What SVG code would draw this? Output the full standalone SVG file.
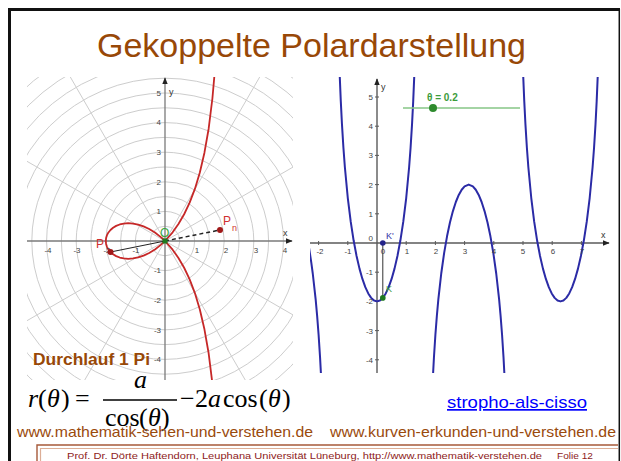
<svg xmlns="http://www.w3.org/2000/svg" width="621" height="461" viewBox="0 0 621 461">
<style>
.sans{font-family:"Liberation Sans",Arial,sans-serif}
.serif{font-family:"Liberation Serif","Times New Roman",serif}
.grid{stroke:#cdcdcd;stroke-width:1;fill:none}
.axisL{stroke:#7a7a7a;stroke-width:1.3;fill:none}
.axisR{stroke:#5a5a5a;stroke-width:1.4;fill:none}
.tick{stroke:#5a5a5a;stroke-width:1}
.lbl{font-family:"Liberation Sans",Arial,sans-serif;font-size:8px;fill:#444}
.red{stroke:#c62828;stroke-width:1.8;fill:none;stroke-linejoin:round}
.blue{stroke:#2b2ba6;stroke-width:2;fill:none;stroke-linejoin:round}
.url{font-family:"Liberation Sans",Arial,sans-serif;font-size:15px;fill:#9a4a0c}
.it{font-style:italic}
</style>
<defs>
<marker id="arr" viewBox="0 0 10 10" refX="9" refY="5" markerWidth="7" markerHeight="7" orient="auto" markerUnits="userSpaceOnUse"><path d="M0,1 L10,5 L0,9 z" fill="#222"/></marker>
<clipPath id="clipL"><rect x="27" y="77" width="266" height="303"/></clipPath>
<clipPath id="clipR"><rect x="310" y="77" width="306" height="296"/></clipPath>
</defs>
<rect x="0" y="0" width="621" height="461" fill="#ffffff"/>

<!-- slide frame -->
<g id="frame">
<line x1="8" y1="9.5" x2="620" y2="9.5" stroke="#111" stroke-width="3"/>
<line x1="9.5" y1="8" x2="9.5" y2="461" stroke="#111" stroke-width="3"/>
<line x1="619.3" y1="9" x2="619.3" y2="461" stroke="#111" stroke-width="1.5"/>
</g>

<g id="title">
<text class="sans" x="97" y="57" font-size="34" fill="#984807" textLength="429" lengthAdjust="spacingAndGlyphs">Gekoppelte Polardarstellung</text>
</g>

<!-- left polar plot -->
<g id="polar-plot">
<g clip-path="url(#clipL)">
<g class="grid">
<circle cx="165" cy="241" r="14.8"/><circle cx="165" cy="241" r="29.6"/><circle cx="165" cy="241" r="44.4"/>
<circle cx="165" cy="241" r="59.2"/><circle cx="165" cy="241" r="74"/><circle cx="165" cy="241" r="88.8"/>
<circle cx="165" cy="241" r="103.6"/><circle cx="165" cy="241" r="118.4"/><circle cx="165" cy="241" r="133.2"/>
<circle cx="165" cy="241" r="148"/><circle cx="165" cy="241" r="162.8"/><circle cx="165" cy="241" r="177.6"/>
<circle cx="165" cy="241" r="192.4"/><circle cx="165" cy="241" r="207.2"/><circle cx="165" cy="241" r="222"/>
<line x1="-94.8" y1="391" x2="424.8" y2="91"/>
<line x1="15" y1="500.8" x2="315" y2="-18.8"/>
<line x1="315" y1="500.8" x2="15" y2="-18.8"/>
<line x1="424.8" y1="391" x2="-94.8" y2="91"/>
</g>
<line class="axisL" x1="27" y1="241" x2="292" y2="241" marker-end="url(#arr)"/>
<line class="axisL" x1="165" y1="380" x2="165" y2="78" marker-end="url(#arr)"/>
<path class="red" d="M215.14,414.78 L212.43,383.74 L208.65,353.28 L204.44,329.29 L199.84,309.45 L194.89,293.10 L189.64,279.37 L184.14,267.76 L178.45,257.95 L172.63,249.68 L165,241 L160.81,237.10 L154.94,232.52 L149.16,228.96 L143.55,226.32 L138.15,224.53 L133.01,223.53 L128.20,223.22 L123.76,223.56 L119.72,224.47 L116.14,225.89 L113.05,227.73 L110.47,229.95 L108.44,232.45 L106.98,235.18 L106.10,238.05 L105.8,241 L106.10,243.95 L106.98,246.82 L108.44,249.55 L110.47,252.05 L113.05,254.27 L116.14,256.11 L119.72,257.53 L123.76,258.44 L128.20,258.78 L133.01,258.47 L138.15,257.47 L143.55,255.68 L149.16,253.04 L154.94,249.48 L160.81,244.90 L165,241 L172.63,232.32 L178.45,224.05 L184.14,214.24 L189.64,202.63 L194.89,188.90 L199.84,172.55 L204.44,152.71 L208.65,128.72 L212.43,98.26 L215.14,67.22"/>
</g>
<g class="lbl" text-anchor="middle">
<text x="48" y="253">-4</text><text x="77" y="253">-3</text><text x="107" y="253">-2</text><text x="136" y="253">-1</text>
<text x="197" y="253">1</text><text x="226" y="253">2</text><text x="256" y="253">3</text><text x="285" y="253">4</text>
</g>
<g class="lbl" text-anchor="end">
<text x="161" y="96">5</text><text x="161" y="125">4</text><text x="161" y="155">3</text><text x="161" y="185">2</text><text x="161" y="214">1</text>
<text x="161" y="273">-1</text><text x="161" y="303">-2</text><text x="161" y="333">-3</text><text x="161" y="362">-4</text>
</g>
<text class="sans" x="169" y="95" font-size="9" fill="#333">y</text>
<text class="sans" x="283" y="236" font-size="9" fill="#333">x</text>
</g>

<g id="connectors">
<line x1="110.5" y1="252" x2="165" y2="241" stroke="#222" stroke-width="1"/>
<line x1="165" y1="241" x2="220" y2="230" stroke="#222" stroke-width="1.5" stroke-dasharray="4,3"/>
<line x1="382.8" y1="243" x2="382.8" y2="297.9" stroke="#333" stroke-width="1"/>
</g>

<g id="point-P">
<circle cx="110.5" cy="252" r="3" fill="#a01818"/>
<text class="sans" x="96" y="248" font-size="12" fill="#d03030">P</text>
</g>
<g id="point-Pn">
<circle cx="220" cy="230" r="3" fill="#a01818"/>
<text class="sans" x="223" y="225" font-size="12" fill="#d03030">P</text>
<text class="sans" x="232" y="231" font-size="9" fill="#d03030">n</text>
</g>
<g id="point-O">
<rect x="162.5" y="238.5" width="5" height="5" fill="#1d7a1d"/>
<text class="sans" x="160" y="237" font-size="12" fill="#3aa83a">O</text>
</g>

<!-- right function plot -->
<g id="function-plot">
<g clip-path="url(#clipR)">
<line class="axisR" x1="310" y1="243" x2="609" y2="243" marker-end="url(#arr)"/>
<line class="axisR" x1="377" y1="373" x2="377" y2="79" marker-end="url(#arr)"/>
<g class="tick">
<line x1="318.6" y1="241" x2="318.6" y2="245"/><line x1="347.8" y1="241" x2="347.8" y2="245"/>
<line x1="406.2" y1="241" x2="406.2" y2="245"/><line x1="435.4" y1="241" x2="435.4" y2="245"/>
<line x1="464.6" y1="241" x2="464.6" y2="245"/><line x1="493.8" y1="241" x2="493.8" y2="245"/>
<line x1="523" y1="241" x2="523" y2="245"/><line x1="552.2" y1="241" x2="552.2" y2="245"/>
<line x1="581.4" y1="241" x2="581.4" y2="245"/>
<line x1="375" y1="97" x2="379" y2="97"/><line x1="375" y1="126.2" x2="379" y2="126.2"/>
<line x1="375" y1="155.4" x2="379" y2="155.4"/><line x1="375" y1="184.6" x2="379" y2="184.6"/>
<line x1="375" y1="213.8" x2="379" y2="213.8"/><line x1="375" y1="272.2" x2="379" y2="272.2"/>
<line x1="375" y1="301.4" x2="379" y2="301.4"/><line x1="375" y1="330.6" x2="379" y2="330.6"/>
<line x1="375" y1="359.8" x2="379" y2="359.8"/>
</g>
<path class="blue" d="M308.96,247.35 L309.99,254 L311.30,262.6 L312.76,273.5 L315.68,299.71 L317.14,315.81 L318.6,334.73 L320.06,357.43 L320.94,373.7 L321.3,380"/>
<path class="blue" d="M339.77,76.71 L340.79,101.13 L341.96,124.16 L343.42,147.75 L344.88,167.23 L347.80,198.02 L350.72,221.65 L353.64,240.55 L356.56,255.98 L359.48,268.64 L362.40,278.95 L365.32,287.17 L368.24,293.45 L371.16,297.88 L374.08,300.52 L377,301.4 L379.92,300.52 L382.84,297.88 L385.76,293.45 L388.68,287.17 L391.60,278.95 L394.52,268.64 L397.44,255.98 L400.36,240.55 L403.28,221.65 L406.20,198.02 L409.12,167.23 L410.58,147.75 L412.04,124.16 L413.21,101.13 L414.23,76.71"/>
<path class="blue" d="M432.77,379.67 L433.94,357.43 L435.40,334.73 L436.86,315.81 L438.32,299.71 L441.24,273.50 L444.16,252.83 L447.08,236.07 L450.00,222.32 L452.92,211.07 L455.84,202.00 L458.76,194.93 L461.68,189.74 L464.60,186.36 L468.73,184.60 L472.86,186.36 L475.78,189.74 L478.70,194.93 L481.62,202.00 L484.54,211.07 L487.46,222.32 L490.38,236.07 L493.30,252.83 L496.22,273.50 L499.14,299.71 L500.60,315.81 L502.06,334.73 L503.52,357.43 L504.69,379.67"/>
<path class="blue" d="M523.24,76.71 L524.26,101.13 L525.43,124.16 L526.89,147.75 L528.35,167.23 L531.27,198.02 L534.19,221.65 L537.11,240.55 L540.03,255.98 L542.95,268.64 L545.87,278.95 L548.79,287.17 L551.71,293.45 L554.63,297.88 L557.55,300.52 L560.47,301.4 L563.39,300.52 L566.31,297.88 L569.23,293.45 L572.15,287.17 L575.07,278.95 L577.99,268.64 L580.91,255.98 L583.83,240.55 L586.75,221.65 L589.67,198.02 L592.59,167.23 L594.05,147.75 L595.51,124.16 L596.68,101.13 L597.70,76.71"/>
</g>
<g class="lbl" text-anchor="middle">
<text x="320" y="254">-2</text><text x="348" y="254">-1</text><text x="383" y="254">0</text>
<text x="407" y="254">1</text><text x="436" y="254">2</text><text x="465" y="254">3</text><text x="494" y="254">4</text>
<text x="523" y="254">5</text><text x="553" y="254">6</text><text x="582" y="254">7</text>
</g>
<g class="lbl" text-anchor="end">
<text x="373" y="100">5</text><text x="373" y="129">4</text><text x="373" y="158">3</text><text x="373" y="188">2</text><text x="373" y="217">1</text>
<text x="373" y="241">0</text>
<text x="373" y="275">-1</text><text x="373" y="304">-2</text><text x="373" y="334">-3</text><text x="373" y="363">-4</text>
</g>
<text class="sans" x="381" y="90" font-size="9" fill="#333">y</text>
<text class="sans" x="601" y="238" font-size="9" fill="#333">x</text>
</g>

<g id="slider">
<line x1="403" y1="108" x2="520" y2="108" stroke="#86c686" stroke-width="1.5"/>
<circle cx="433" cy="108" r="4" fill="#2e8b2e"/>
<text class="sans" x="427" y="101" font-size="10" font-weight="bold" fill="#3c9c3c">θ = 0.2</text>
</g>
<g id="point-K1">
<circle cx="382.8" cy="243" r="2.8" fill="#24248a"/>
<text class="sans" x="386" y="239" font-size="9" fill="#3434a8">K'</text>
</g>
<g id="point-K">
<circle cx="382.8" cy="297.9" r="2.8" fill="#1f7a1f"/>
<text class="sans" x="386" y="292" font-size="9" fill="#3a9a3a">K</text>
</g>

<g id="caption">
<text class="sans" x="33" y="365" font-size="16" font-weight="bold" fill="#984807" textLength="117" lengthAdjust="spacingAndGlyphs">Durchlauf 1 Pi</text>
</g>

<g id="formula" class="serif" font-size="26" fill="#000">
<rect x="27" y="380" width="283" height="28" fill="#ffffff"/>
<text x="28" y="407"><tspan class="it">r</tspan><tspan x="38">(</tspan><tspan x="47" class="it">θ</tspan><tspan x="61">)</tspan><tspan x="75">=</tspan></text>
<text x="134" y="388" class="it">a</text>
<line x1="103" y1="400" x2="177" y2="400" stroke="#000" stroke-width="1.3"/>
<text x="105" y="426">cos<tspan x="139">(</tspan><tspan x="148" class="it">θ</tspan><tspan x="161">)</tspan></text>
<text x="180" y="407">−<tspan x="195">2</tspan><tspan x="208" class="it">a</tspan><tspan x="223">cos</tspan><tspan x="259">(</tspan><tspan x="268" class="it">θ</tspan><tspan x="282">)</tspan></text>
</g>

<g id="link">
<text class="sans" x="447" y="408" font-size="17" fill="#0000ff" text-decoration="underline" textLength="140" lengthAdjust="spacingAndGlyphs">stropho-als-cisso</text>
</g>

<g id="urls">
<text class="url" x="17" y="437" textLength="296" lengthAdjust="spacingAndGlyphs">www.mathematik-sehen-und-verstehen.de</text>
<text class="url" x="330" y="437" textLength="286" lengthAdjust="spacingAndGlyphs">www.kurven-erkunden-und-verstehen.de</text>
</g>

<g id="footer">
<path d="M37,461 V445 H618" fill="none" stroke="#a65a3a" stroke-width="1.4"/>
<path d="M40.5,461 V448.5 H618" fill="none" stroke="#dcae96" stroke-width="1.2"/>
<text class="sans" x="67" y="459" font-size="9.5" fill="#8e1c1c" textLength="475" lengthAdjust="spacingAndGlyphs">Prof. Dr. Dörte Haftendorn, Leuphana Universität Lüneburg,  http://www.mathematik-verstehen.de</text>
<text class="sans" x="557" y="459" font-size="9.5" fill="#8e1c1c" textLength="36" lengthAdjust="spacingAndGlyphs">Folie 12</text>
</g>
</svg>
